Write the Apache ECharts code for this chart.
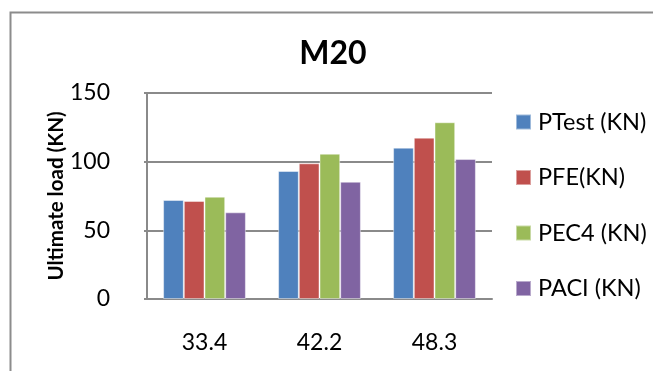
<!DOCTYPE html>
<html>
<head>
<meta charset="utf-8">
<script src="https://cdn.jsdelivr.net/npm/echarts@6/dist/echarts.min.js"></script>
<style>html,body{margin:0;padding:0;background:#fff}#c{width:653px;height:371px}</style>
</head>
<body>
<div id="c"></div>
<script>
var categories = ['33.4', '42.2', '48.3'];
var seriesNames = ['PTest (KN)', 'PFE(KN)', 'PEC4 (KN)', 'PACI (KN)'];
var pTest = [72.1, 93.2, 110.2];
var pFE = [71.4, 98.8, 117.5];
var pEC4 = [74.5, 105.8, 128.7];
var pACI = [63.1, 85.4, 101.9];
var yTicks = [0, 50, 100, 150];
var colors = ['#4F81BD', '#C0504D', '#9BBB59', '#8064A2'];

var FONT = 'Lato';
var chart = echarts.init(document.getElementById('c'), null, {renderer: 'canvas'});
var values = [pTest, pFE, pEC4, pACI];
chart.setOption({
  animation: false,
  color: colors,
  graphic: [{
    type: 'rect', left: 8, top: 10, silent: true,
    shape: {x: 0, y: 0, width: 700, height: 400},
    style: {fill: 'none', stroke: '#8c8c8c', lineWidth: 2}
  }],
  title: {
    text: 'M20', left: 333, top: 36, textAlign: 'center', padding: 0,
    textStyle: {fontFamily: FONT, fontWeight: 'bold', fontSize: 32, color: '#000', lineHeight: 36}
  },
  legend: {
    orient: 'vertical', left: 515, top: 110, itemWidth: 15, itemHeight: 15, itemGap: 31.5,
    icon: 'rect', padding: 0,
    data: seriesNames,
    textStyle: {fontFamily: FONT, fontSize: 23.5, color: '#000', lineHeight: 15, padding: [0, 0, 0, 2]}
  },
  grid: {left: 147, right: 161, top: 93, bottom: 72, containLabel: false},
  xAxis: {
    type: 'category', data: categories,
    axisLine: {lineStyle: {color: '#8a8a8a', width: 2}},
    axisTick: {show: false},
    axisLabel: {fontFamily: FONT, fontSize: 23, color: '#000', margin: 32}
  },
  yAxis: {
    type: 'value', min: yTicks[0], max: yTicks[yTicks.length - 1], interval: 50,
    name: 'Ultimate load (KN)', nameLocation: 'middle', nameGap: 80, nameRotate: 90,
    nameMoveOverlap: false,
    nameTextStyle: {fontFamily: FONT, fontWeight: 'bold', fontSize: 20.5, color: '#000'},
    axisLine: {show: true, lineStyle: {color: '#8a8a8a', width: 2}},
    axisTick: {show: true, length: 3, lineStyle: {color: '#8a8a8a', width: 2}},
    splitLine: {lineStyle: {color: '#8a8a8a', width: 2}},
    axisLabel: {fontFamily: FONT, fontSize: 23, color: '#000', margin: 37}
  },
  series: seriesNames.map(function (n, i) {
    return {
      name: n, type: 'bar', data: values[i],
      barGap: '0%', barCategoryGap: '28%',
      itemStyle: {borderColor: 'rgba(255,255,255,0.45)', borderWidth: 1}
    };
  })
});
</script>
</body>
</html>
